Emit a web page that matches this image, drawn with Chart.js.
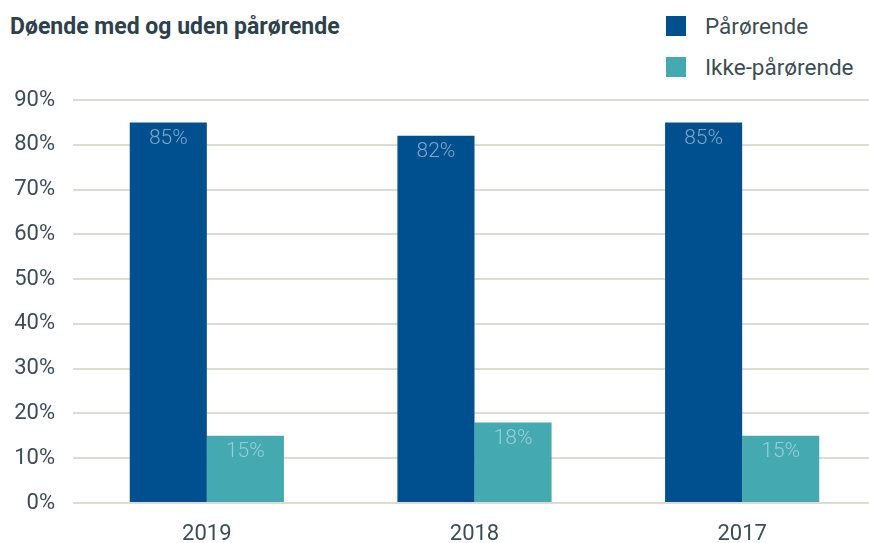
<!DOCTYPE html>
<html>
<head>
<meta charset="utf-8">
<script src="https://cdn.jsdelivr.net/npm/chart.js@4"></script>
<style>
  html, body { margin: 0; padding: 0; background: #fff; overflow: hidden; }
  body { width: 869px; height: 543px; position: relative; font-family: Roboto, sans-serif; }
  #wrap { position: absolute; left: 0; top: 0; width: 880px; height: 543px; }
  #title { position: absolute; left: 10px; top: 13px; font-size: 23px; font-weight: bold; color: #2e404a; letter-spacing: 0px; }
  .leg { position: absolute; left: 666px; font-size: 22.5px; color: #3d4d56; }
  .leg span { position: absolute; left: 0; width: 20px; height: 20px; }
  .leg div { position: absolute; left: 39px; top: -3px; white-space: nowrap; }
</style>
</head>
<body>
<div id="title">Døende med og uden pårørende</div>
<div class="leg" style="top:16px"><span style="background:#00508f"></span><div>Pårørende</div></div>
<div class="leg" style="top:57px"><span style="background:#45a9b1"></span><div>Ikke-pårørende</div></div>
<div id="wrap"><canvas id="chart" width="880" height="543"></canvas></div>
<script>
const years = ['2019', '2018', '2017'];
const paarorende = [85, 82, 85];
const ikkePaarorende = [15, 18, 15];
const yTicks = [0, 10, 20, 30, 40, 50, 60, 70, 80, 90];

// tal inde i toppen af søjlerne
const barLabels = {
    id: 'barLabels',
    afterDatasetsDraw(chart) {
        const ctx = chart.ctx;
        ctx.save();
        ctx.font = '300 21px Roboto';
        ctx.textAlign = 'center';
        ctx.textBaseline = 'middle';
        chart.data.datasets.forEach((ds, i) => {
            chart.getDatasetMeta(i).data.forEach((bar, j) => {
                ctx.fillStyle = ds.labelColor;
                ctx.fillText(ds.data[j] + '%', bar.x, bar.y + 16);
            });
        });
        ctx.restore();
    }
};

new Chart(document.getElementById('chart').getContext('2d'), {
    type: 'bar',
    data: {
        labels: years,
        datasets: [
            { label: 'Pårørende', data: paarorende, backgroundColor: '#00508f', labelColor: '#7fa5c9' },
            { label: 'Ikke-pårørende', data: ikkePaarorende, backgroundColor: '#45a9b1', labelColor: '#94d0d4' }
        ]
    },
    options: {
        responsive: false,
        animation: false,
        layout: { padding: { top: 100, right: 4, bottom: 0, left: 0 } },
        categoryPercentage: 0.576,
        barPercentage: 1,
        plugins: {
            legend: { display: false },
            tooltip: { enabled: false }
        },
        scales: {
            x: {
                grid: { display: false },
                border: { display: false },
                ticks: { color: '#3d4d56', font: { family: 'Roboto', size: 22 }, padding: 10 },
                afterFit(scale) { scale.height = 40; }
            },
            y: {
                min: 0,
                max: 90,
                afterBuildTicks(scale) { scale.ticks = yTicks.map(v => ({ value: v })); },
                grid: { color: '#e0dbd0', lineWidth: 2, drawTicks: false },
                border: { display: false },
                ticks: {
                    color: '#3d4d56',
                    font: { family: 'Roboto', size: 22 },
                    padding: 18,
                    callback: v => v + '%'
                },
                afterFit(scale) { scale.width = 73; }
            }
        }
    },
    plugins: [barLabels]
});
</script>
</body>
</html>
